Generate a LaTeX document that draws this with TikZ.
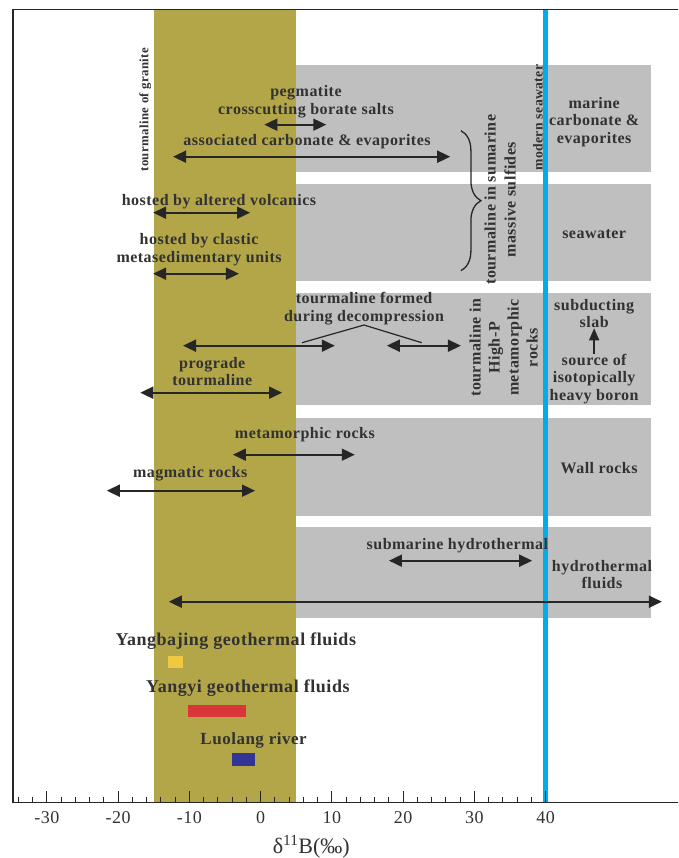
\documentclass[tikz,border=0pt]{standalone}
\usepackage{fontspec}
\setmainfont{Liberation Serif}
\newfontfamily\lblfont{Liberation Serif}[LetterSpace=3]
\usepackage{xcolor}
\usepackage{tikz}
\usetikzlibrary{arrows.meta,decorations.pathreplacing}

\definecolor{bandolive}{RGB}{178,166,73}
\definecolor{boxgray}{RGB}{191,191,191}
\definecolor{seablue}{RGB}{0,172,236}
\definecolor{txtgray}{RGB}{50,50,50}
\definecolor{arrgray}{RGB}{38,38,38}
\definecolor{ybfill}{RGB}{240,200,66}
\definecolor{yyfill}{RGB}{216,54,56}
\definecolor{llfill}{RGB}{50,52,150}

\begin{document}
\begin{tikzpicture}[x=7.125pt, y=1pt,
  lbl/.style={text=txtgray, font=\lblfont\bfseries\fontsize{16}{17.5}\selectfont, align=center, inner sep=0pt},
  vlbl/.style={lbl, rotate=90, font=\lblfont\bfseries\fontsize{16}{20}\selectfont},
  big/.style={lbl, font=\lblfont\bfseries\fontsize{18}{20}\selectfont},
  rng/.style={draw=arrgray, line width=1.8pt, {Triangle[length=13pt,width=12pt]}-{Triangle[length=13pt,width=12pt]}},
  gbox/.style={fill=boxgray},
  tick/.style={text=txtgray, font=\lblfont\fontsize{18}{20}\selectfont, inner sep=0pt}]
  \useasboundingbox (-36.59,-55.3) rectangle (58.57,802.7);

  % source fields (grey bands)
  \fill[gbox] (5,738) rectangle (54.8,631);
  \fill[gbox] (5,619) rectangle (54.8,522);
  \fill[gbox] (5,510) rectangle (54.8,398);
  \fill[gbox] (5,385) rectangle (54.8,287);
  \fill[gbox] (5,276) rectangle (54.8,185);
  % granite band and modern seawater
  \fill[bandolive] (-15,0) rectangle (5,793);
  \draw[seablue, line width=5pt] (40,0) -- (40,793);

  % frame and axis
  \draw[arrgray, line width=1.6pt] (58.57,793) -- (-34.8,793) -- (-34.8,0) -- (58.57,0);
  \foreach \v in {-34,-32,...,40} \draw[arrgray, line width=1pt] (\v,0) -- (\v,6);
  \foreach \v in {-30,-20,...,40} {
    \draw[arrgray, line width=1pt] (\v,0) -- (\v,12);
    \node[tick] (t\v) at (\v,-15) {\v};
  }
  \node[tick, font=\fontsize{22}{24}\selectfont] (xlab) at (7.1,-44) {δ\textsuperscript{11}B(‰)};

  % upper fields
  \node[vlbl, font=\lblfont\bfseries\fontsize{12.8}{14}\selectfont] (gran) at (-16.2,693) {tourmaline of granite};
  \node[vlbl, font=\lblfont\bfseries\fontsize{13.7}{15}\selectfont] (msw) at (38.9,685) {modern seawater};
  \node[lbl] (peg) at (6.35,701) {pegmatite\\crosscutting borate salts};
  \draw[rng] (0.5,678) -- (9.2,678);
  \node[lbl] (assoc) at (6.5,661) {associated carbonate \& evaporites};
  \draw[rng] (-12.3,646) -- (26.6,646);
  \node[lbl] (marine) at (46.8,681) {marine\\carbonate \&\\evaporites};
  \node[lbl] (alt) at (-5.85,601) {hosted by altered volcanics};
  \draw[rng] (-15.1,590) -- (-1.5,590);
  \node[lbl] (clast) at (-8.65,553) {hosted by clastic\\metasedimentary units};
  \draw[rng] (-15.1,529) -- (-3.05,529);
  \node[lbl] (sea) at (46.8,569) {seawater};
  \draw[arrgray, line width=1.3pt, decorate, decoration={brace, amplitude=20pt}] (28.1,672) -- (28.1,532);
  \node[vlbl] (vms) at (33.6,603) {tourmaline in sumarine\\massive sulfides};

  % subduction
  \node[lbl] (dec) at (14.5,494) {tourmaline formed\\during decompression};
  \coordinate (decl) at (5.8,460);
  \coordinate (decr) at (22.6,460);
  \draw[arrgray, line width=1.2pt] (decl) -- (dec.south) -- (decr);
  \draw[rng] (-10.9,457) -- (10.4,457);
  \draw[rng] (17.7,457) -- (28.1,457);
  \node[lbl] (pro) at (-6.8,431) {prograde\\tourmaline};
  \draw[rng] (-16.9,410) -- (3.0,410);
  \node[vlbl, font=\lblfont\bfseries\fontsize{16}{19}\selectfont] (hp) at (34.1,455) {tourmaline in\\High-P\\metamorphic\\rocks};
  \node[lbl] (slab) at (46.8,489) {subducting\\slab};
  \node[lbl] (src) at (46.8,424) {source of\\isotopically\\heavy boron};
  \draw[arrgray, line width=1.6pt, -{Triangle[length=12pt,width=10pt]}] (src.north) -- (slab.south);

  % wall rocks
  \node[lbl] (meta) at (6.2,368) {metamorphic rocks};
  \draw[rng] (-3.9,348) -- (13.2,348);
  \node[lbl] (mag) at (-9.9,329) {magmatic rocks};
  \draw[rng] (-21.6,312) -- (-0.8,312);
  \node[lbl] (wall) at (47.5,335) {Wall rocks};

  % hydrothermal fluids
  \node[lbl] (sub) at (27.6,257) {submarine hydrothermal};
  \draw[rng] (18,242) -- (38.1,242);
  \node[lbl] (hyd) at (47.9,228) {hydrothermal\\fluids};
  \draw[rng] (-12.9,201) -- (56.3,201);

  % samples of this study
  \node[big] (yb) at (-3.5,162) {Yangbajing geothermal fluids};
  \fill[ybfill] (-13.0,147) rectangle (-10.9,135);
  \node[big] (yy) at (-1.8,115) {Yangyi geothermal fluids};
  \fill[yyfill] (-10.2,98) rectangle (-2.06,86);
  \node[big, font=\lblfont\bfseries\fontsize{17}{19}\selectfont] (ll) at (-1.0,62) {Luolang river};
  \fill[llfill] (-4.0,50) rectangle (-0.8,37);
\end{tikzpicture}
\end{document}
